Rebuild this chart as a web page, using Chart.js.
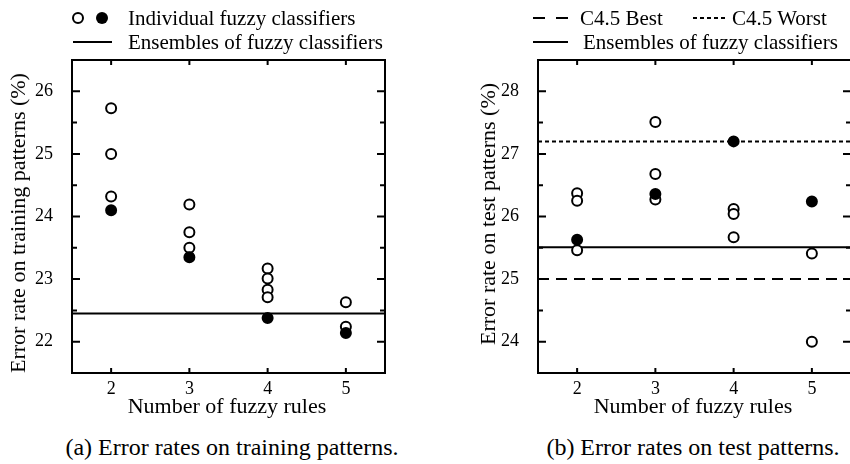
<!DOCTYPE html>
<html lang="en">
<head>
<meta charset="UTF-8">
<title>Error rates of fuzzy classifiers</title>
<script src="https://cdn.jsdelivr.net/npm/chart.js"></script>
<style>
  html, body { margin: 0; padding: 0; background: #fff; overflow: hidden; }
  #page { position: relative; width: 850px; height: 464px; overflow: hidden; font-family: "Liberation Serif", "Times New Roman", serif; color: #000; }
  .box { position: absolute; top: 0; width: 425px; height: 400px; }
  .t { position: absolute; white-space: nowrap; line-height: 1; }
  .leg { font-size: 21px; }
  .ttl { font-size: 22px; transform: translate(-50%, -50%); }
  .ytl { font-size: 22px; transform: translate(-50%, -50%) rotate(-90deg); }
  .cap { font-size: 24px; transform: translate(-50%, -50%); }
  svg { position: absolute; overflow: visible; }
</style>
</head>
<body>
<div id="page">
  <div class="box" style="left:0"><canvas id="trainChart"></canvas></div>
  <div class="box" style="left:466px"><canvas id="testChart"></canvas></div>

  <!-- legend (a) -->
  <svg style="left:0;top:0" width="1" height="1">
    <circle cx="78" cy="18" r="5" fill="#fff" stroke="#000" stroke-width="2"/>
    <circle cx="102" cy="18" r="6" fill="#000"/>
    <line x1="73" y1="42" x2="112" y2="42" stroke="#000" stroke-width="2"/>
  </svg>
  <div class="t leg" style="left:128px;top:8px">Individual fuzzy classifiers</div>
  <div class="t leg" style="left:128px;top:32px">Ensembles of fuzzy classifiers</div>

  <!-- legend (b) -->
  <svg style="left:0;top:0" width="1" height="1">
    <line x1="533" y1="18" x2="568" y2="18" stroke="#000" stroke-width="2" stroke-dasharray="12 11"/>
    <line x1="693" y1="18" x2="725" y2="18" stroke="#000" stroke-width="2" stroke-dasharray="4 3"/>
    <line x1="533" y1="42" x2="568" y2="42" stroke="#000" stroke-width="2"/>
  </svg>
  <div class="t leg" style="left:580px;top:8px">C4.5 Best</div>
  <div class="t leg" style="left:732px;top:8px">C4.5 Worst</div>
  <div class="t leg" style="left:583px;top:32px">Ensembles of fuzzy classifiers</div>

  <!-- axis titles and captions -->
  <div class="t ytl" style="left:18px;top:223px">Error rate on training patterns (%)</div>
  <div class="t ytl" style="left:488px;top:214px">Error rate on test patterns (%)</div>
  <div class="t ttl" style="left:227px;top:406px">Number of fuzzy rules</div>
  <div class="t ttl" style="left:693px;top:406px">Number of fuzzy rules</div>
  <div class="t cap" style="left:232px;top:447px">(a) Error rates on training patterns.</div>
  <div class="t cap" style="left:693px;top:447px">(b) Error rates on test patterns.</div>
</div>

<script>
// number of fuzzy rules (x ticks)
const ruleCounts = [2, 3, 4, 5];

// (a) training error rates (%)
const trainOpenX = [2, 2, 2, 3, 3, 3, 4, 4, 4, 4, 5, 5];
const trainOpenY = [25.73, 25.0, 24.32, 24.19, 23.75, 23.5, 23.17, 23.01, 22.83, 22.71, 22.63, 22.24];
const trainFilled = [24.1, 23.35, 22.38, 22.14];
const trainEnsemble = 22.45;
const trainYTicks = [22, 23, 24, 25, 26];

// (b) test error rates (%)
const testOpenX = [2, 2, 2, 3, 3, 3, 4, 4, 4, 5, 5];
const testOpenY = [26.37, 26.25, 25.46, 27.51, 26.68, 26.27, 26.12, 26.04, 25.67, 25.41, 24.0];
const testFilled = [25.63, 26.36, 27.2, 26.24];
const testEnsemble = 25.51;
const c45Best = 25.0;
const c45Worst = 27.2;
const testYTicks = [24, 25, 26, 27, 28];

const FONT = '"Liberation Serif", "Times New Roman", serif';

// box frame with inward ticks on all four sides
const framePlugin = {
    id: 'frame',
    afterDraw(chart) {
        const { ctx, chartArea: a, scales: { x, y } } = chart;
        ctx.save();
        ctx.strokeStyle = '#000';
        ctx.lineWidth = 2;
        ctx.beginPath();
        x.ticks.forEach(t => {
            const px = x.getPixelForValue(t.value);
            ctx.moveTo(px, a.bottom); ctx.lineTo(px, a.bottom - 5);
            ctx.moveTo(px, a.top); ctx.lineTo(px, a.top + 5);
        });
        for (let v = y.min; v <= y.max + 1e-9; v += 0.5) {
            const py = y.getPixelForValue(v);
            const len = Math.abs(v - Math.round(v)) < 1e-6 ? 8 : 5;
            ctx.moveTo(a.left, py); ctx.lineTo(a.left + len, py);
            ctx.moveTo(a.right, py); ctx.lineTo(a.right - len, py);
        }
        ctx.stroke();
        ctx.strokeRect(a.left, a.top, a.right - a.left, a.bottom - a.top);
        ctx.restore();
    }
};

function hline(value, dash) {
    return {
        type: 'line',
        data: [{ x: 1.5, y: value }, { x: 5.5, y: value }],
        borderColor: '#000',
        borderWidth: 2,
        borderDash: dash,
        pointRadius: 0,
        fill: false,
        order: 3
    };
}

function makeChart(id, openX, openY, filled, lines, yMin, yMax, yTicks) {
    const c = document.getElementById(id);
    c.width = 425; c.height = 400;
    c.style.width = '425px'; c.style.height = '400px';
    return new Chart(c.getContext('2d'), {
        type: 'scatter',
        data: {
            datasets: [
                {
                    data: filled.map((v, i) => ({ x: ruleCounts[i], y: v })),
                    backgroundColor: '#000',
                    borderColor: '#000',
                    borderWidth: 2,
                    pointRadius: 5,
                    order: 1
                },
                {
                    data: openX.map((v, i) => ({ x: v, y: openY[i] })),
                    backgroundColor: '#fff',
                    borderColor: '#000',
                    borderWidth: 2,
                    pointRadius: 5,
                    order: 2
                },
                ...lines
            ]
        },
        options: {
            responsive: false,
            animation: false,
            events: [],
            layout: { padding: { top: 60, right: 40, bottom: 0, left: 0 } },
            plugins: { legend: { display: false }, tooltip: { enabled: false } },
            scales: {
                x: {
                    type: 'linear',
                    min: 1.5,
                    max: 5.5,
                    grid: { display: false },
                    border: { display: false },
                    afterBuildTicks: s => { s.ticks = ruleCounts.map(v => ({ value: v })); },
                    afterFit: s => { s.height = 27; },
                    ticks: { color: '#000', padding: -3, font: { family: FONT, size: 18 } }
                },
                y: {
                    min: yMin,
                    max: yMax,
                    grid: { display: false },
                    border: { display: false },
                    afterBuildTicks: s => { s.ticks = yTicks.map(v => ({ value: v })); },
                    afterFit: s => { s.width = 72; },
                    ticks: { color: '#000', padding: 11, font: { family: FONT, size: 18 } }
                }
            }
        },
        plugins: [framePlugin]
    });
}

function drawAll() {
    makeChart('trainChart', trainOpenX, trainOpenY, trainFilled,
        [hline(trainEnsemble, [])], 21.5, 26.5, trainYTicks);
    makeChart('testChart', testOpenX, testOpenY, testFilled,
        [hline(testEnsemble, []), hline(c45Best, [11, 7]), hline(c45Worst, [4, 3])],
        23.5, 28.5, testYTicks);
}

document.fonts.load('18px "Liberation Serif"').then(drawAll, drawAll);
</script>
</body>
</html>
